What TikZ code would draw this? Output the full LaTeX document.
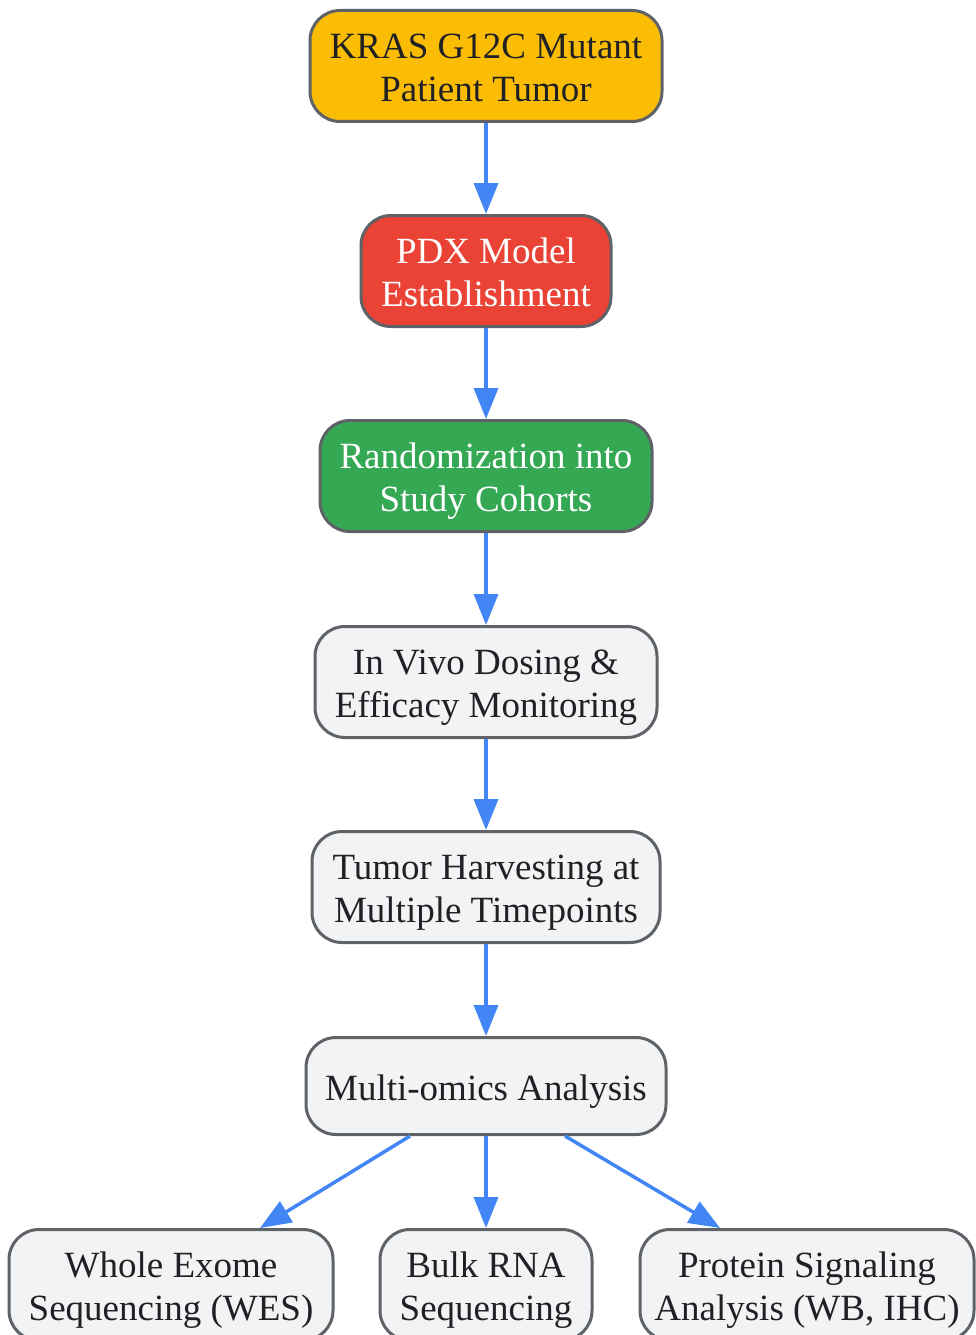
\documentclass[tikz,border=0pt]{standalone}
\usepackage{fontspec}
\setmainfont{Liberation Serif}
\usetikzlibrary{arrows.meta}
\definecolor{kyellow}{HTML}{FBBC04}
\definecolor{kred}{HTML}{EA4335}
\definecolor{kgreen}{HTML}{34A853}
\definecolor{kgray}{HTML}{F1F3F4}
\definecolor{kborder}{HTML}{5F6368}
\definecolor{kblue}{HTML}{4285F4}
\definecolor{ktext}{HTML}{202124}
\newcommand{\boxtext}[1]{\raisebox{-12pt}[0pt][0pt]{\begin{tabular}{@{}c@{}}#1\end{tabular}}}
\begin{document}
\begin{tikzpicture}[x=1pt,y=-1pt,
  box/.style={draw=kborder, line width=3pt, rounded corners=30pt, align=center, inner sep=0pt,
    minimum height=111pt, font=\fontsize{37}{43}\selectfont, text=ktext, fill=kgray},
  arr/.style={draw=kblue, line width=3.5pt, -{Triangle[length=31pt,width=24pt]}}]
\fill[white] (0,0) rectangle (975,1335);
\useasboundingbox (0,0) rectangle (975,1335);
\node[box, fill=kyellow, minimum width=352pt] (a) at (486,66) {\boxtext{KRAS G12C Mutant\\Patient Tumor}};
\node[box, fill=kred, text=white, minimum width=250pt] (b) at (486,271) {\boxtext{PDX Model\\Establishment}};
\node[box, fill=kgreen, text=white, minimum width=332pt] (c) at (486,476) {\boxtext{Randomization into\\Study Cohorts}};
\node[box, minimum width=342pt] (d) at (486,682) {\boxtext{In Vivo Dosing \&\\Efficacy Monitoring}};
\node[box, minimum width=348pt] (e) at (486,887) {\boxtext{Tumor Harvesting at\\Multiple Timepoints}};
\node[box, minimum width=360pt, minimum height=97pt] (f) at (486,1086) {\boxtext{Multi-omics Analysis}};
\node[box, minimum width=324pt] (g) at (171,1285) {\boxtext{Whole Exome\\Sequencing (WES)}};
\node[box, minimum width=212pt] (h) at (486,1285) {\boxtext{Bulk RNA\\Sequencing}};
\node[box, minimum width=334pt] (i) at (807,1285) {\boxtext{Protein Signaling\\Analysis (WB, IHC)}};
\draw[arr] (a) -- (b);
\draw[arr] (b) -- (c);
\draw[arr] (c) -- (d);
\draw[arr] (d) -- (e);
\draw[arr] (e) -- (f);
\draw[arr] ([xshift=-76pt]f.south) -- ([xshift=89pt]g.north);
\draw[arr] (f) -- (h);
\draw[arr] ([xshift=79pt]f.south) -- ([xshift=-87pt]i.north);
\end{tikzpicture}
\end{document}
